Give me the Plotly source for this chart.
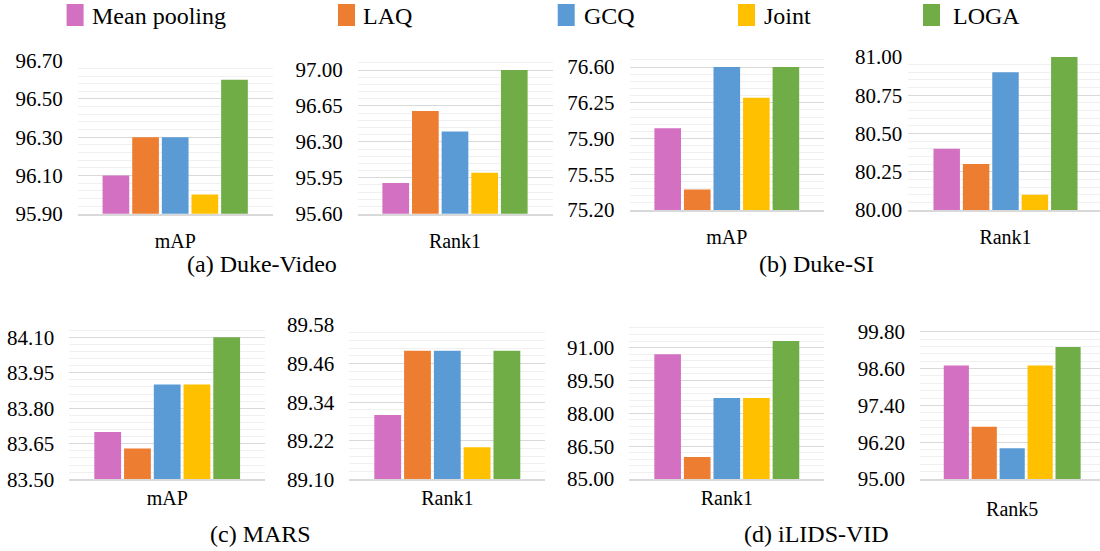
import plotly.graph_objects as go

# ---------------- data ----------------
series = ["Mean pooling", "LAQ", "GCQ", "Joint", "LOGA"]
colors = ["#D370C2", "#ED7D31", "#5B9BD5", "#FFC000", "#70AD47"]

duke_video_map = [96.10, 96.30, 96.30, 96.00, 96.60]
duke_video_rank1 = [95.90, 96.60, 96.40, 96.00, 97.00]
duke_si_map = [76.00, 75.40, 76.60, 76.30, 76.60]
duke_si_rank1 = [80.40, 80.30, 80.90, 80.10, 81.00]
mars_map = [83.70, 83.63, 83.90, 83.90, 84.10]
mars_rank1 = [89.30, 89.50, 89.50, 89.20, 89.50]
ilids_rank1 = [90.70, 86.00, 88.70, 88.70, 91.30]
ilids_rank5 = [98.70, 96.70, 96.00, 98.70, 99.30]

captions = ["(a) Duke-Video", "(b) Duke-SI", "(c) MARS", "(d) iLIDS-VID"]

# ---------------- layout config (pixels) ----------------
W, H = 1100, 551
FONT = "Liberation Serif"

panels = [
    dict(cat="mAP", vals=duke_video_map, left=77.7, right=272.7, c=175.2, unit=195.0,
         top=60.7, bottom=213.7, yr=(95.90, 96.70), dtick=0.20, minor=0.04, ys=14, xs=9),
    dict(cat="Rank1", vals=duke_video_rank1, left=357.7, right=552.5, c=455.0, unit=195.0,
         top=59.8, bottom=213.7, yr=(95.60, 97.10), dtick=0.35, minor=0.07, ys=14, xs=9),
    dict(cat="mAP", vals=duke_si_map, left=629.5, right=823.9, c=726.8, unit=194.4,
         top=56.8, bottom=210.0, yr=(75.20, 76.70), dtick=0.35, minor=0.07, ys=14, xs=8),
    dict(cat="Rank1", vals=duke_si_rank1, left=908.3, right=1100.0, c=1005.5, unit=193.4,
         top=57.0, bottom=210.0, yr=(80.00, 81.00), dtick=0.25, minor=0.05, ys=5, xs=8),
    dict(cat="mAP", vals=mars_map, left=69.3, right=265.0, c=167.2, unit=195.7,
         top=325.4, bottom=479.3, yr=(83.50, 84.15), dtick=0.15, minor=0.03, ys=14, xs=0),
    dict(cat="Rank1", vals=mars_rank1, left=349.3, right=545.3, c=447.3, unit=196.0,
         top=325.0, bottom=479.3, yr=(89.10, 89.58), dtick=0.12, minor=0.024, ys=14, xs=0),
    dict(cat="Rank1", vals=ilids_rank1, left=629.3, right=823.9, c=726.8, unit=194.6,
         top=325.8, bottom=479.0, yr=(85.00, 92.00), dtick=1.5, minor=0.3, ys=14, xs=0),
    dict(cat="Rank5", vals=ilids_rank5, left=920.0, right=1100.0, c=1012.2, unit=183.8,
         top=325.6, bottom=479.0, yr=(95.00, 100.00), dtick=1.2, minor=0.24, ys=14, xs=11),
]

caption_pos = [(262, 264), (816, 264), (260, 534), (816, 534)]
legend_sq_x = [66.6, 338.0, 557.7, 738.0, 923.0]
legend_txt_x = [89.8, 360.6, 582.0, 762.0, 950.5]

fig = go.Figure()
layout = dict(
    width=W, height=H, margin=dict(l=0, r=0, t=0, b=0, pad=0, autoexpand=False),
    paper_bgcolor="white", plot_bgcolor="white",
    barmode="group", bargap=0.24, bargroupgap=0.1,
    showlegend=False, font=dict(family=FONT, color="#000000"),
)

for i, p in enumerate(panels):
    n = "" if i == 0 else str(i + 1)
    xa, ya = "x" + n, "y" + n
    for s, col, v in zip(series, colors, p["vals"]):
        fig.add_trace(go.Bar(x=[p["cat"]], y=[v], name=s, marker=dict(color=col, line=dict(width=0)),
                             xaxis=xa, yaxis=ya, showlegend=False, hoverinfo="name+y"))
    x0 = -(p["c"] - p["left"]) / p["unit"]
    x1 = (p["right"] - p["c"]) / p["unit"]
    layout["xaxis" + n] = dict(
        domain=[p["left"] / W, p["right"] / W], anchor=ya, type="category",
        range=[x0, x1], showgrid=False, zeroline=False,
        showline=True, linecolor="#D9D9D9", linewidth=1.5,
        ticks="", ticklabelstandoff=p["xs"], tickfont=dict(size=20, family=FONT, color="#000"),
        fixedrange=True, automargin=False,
    )
    layout["yaxis" + n] = dict(
        domain=[1 - p["bottom"] / H, 1 - p["top"] / H], anchor=xa,
        range=list(p["yr"]), tick0=p["yr"][0], dtick=p["dtick"], tickformat=".2f",
        showgrid=True, gridcolor="#D9D9D9", gridwidth=1, zeroline=False, showline=False,
        ticks="", ticklabelstandoff=p["ys"], tickfont=dict(size=21, family=FONT, color="#000"),
        minor=dict(dtick=p["minor"], tick0=p["yr"][0], showgrid=True, gridcolor="#F0F0F0", gridwidth=1),
        fixedrange=True, automargin=False,
    )

annotations = []
for txt, (cx, cy) in zip(captions, caption_pos):
    annotations.append(dict(text=txt, x=cx / W, y=1 - cy / H, xref="paper", yref="paper",
                            xanchor="center", yanchor="middle", showarrow=False,
                            font=dict(size=24, family=FONT, color="#000")))
shapes = []
for s, col, sx, tx in zip(series, colors, legend_sq_x, legend_txt_x):
    shapes.append(dict(type="rect", xref="paper", yref="paper",
                       x0=sx / W, x1=(sx + 17) / W, y0=1 - 26 / H, y1=1 - 4 / H,
                       fillcolor=col, line=dict(width=0)))
    annotations.append(dict(text=s, x=tx / W, y=1 - 16 / H, xref="paper", yref="paper",
                            xanchor="left", yanchor="middle", showarrow=False,
                            font=dict(size=24, family=FONT, color="#000")))
layout["annotations"] = annotations
layout["shapes"] = shapes
fig.update_layout(**layout)

fig.write_html("out.html", config={"displayModeBar": False},
               post_script="document.body.style.margin='0';document.body.style.overflow='hidden';")
